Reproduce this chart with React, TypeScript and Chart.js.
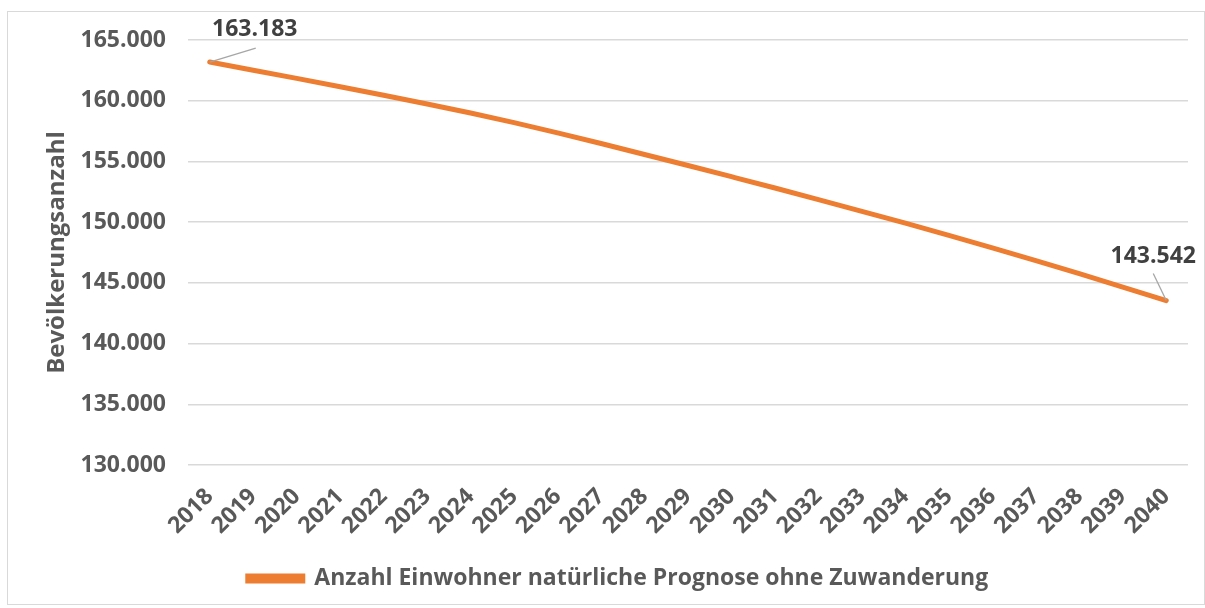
import { useEffect, useRef } from "react";
import { Chart, registerables } from "chart.js";

Chart.register(...registerables);

const years = [
  "2018", "2019", "2020", "2021", "2022", "2023", "2024", "2025", "2026", "2027", "2028", "2029",
  "2030", "2031", "2032", "2033", "2034", "2035", "2036", "2037", "2038", "2039", "2040",
];
const population = [
  163183, 162513, 161838, 161153, 160453, 159733, 158983, 158193, 157353, 156473, 155573, 154663,
  153743, 152813, 151860, 150892, 149912, 148912, 147882, 146827, 145752, 144657, 143542,
];
const seriesLabel = "Anzahl Einwohner natürliche Prognose ohne Zuwanderung";
const axisTitle = "Bevölkerungsanzahl";
const yMin = 130000;
const yMax = 165000;
const yStep = 5000;

const FONT = "'Open Sans', sans-serif";
const ORANGE = "#ED7D31";

function fmt(v: number): string {
  return String(Math.round(v)).replace(/\B(?=(\d{3})+(?!\d))/g, ".");
}

const endLabels = {
  id: "endLabels",
  afterDatasetsDraw(chart: any) {
    const meta = chart.getDatasetMeta(0);
    const ctx = chart.ctx;
    const last = population.length - 1;
    const specs = [
      { i: 0, lx: 46, ly: -14, tx: 45, ty: -33 },
      { i: last, lx: -13, ly: -27, tx: -13, ty: -44 },
    ];
    ctx.save();
    for (const s of specs) {
      const p = meta.data[s.i];
      ctx.strokeStyle = "#a6a6a6";
      ctx.lineWidth = 1.3;
      ctx.beginPath();
      ctx.moveTo(p.x, p.y);
      ctx.lineTo(p.x + s.lx, p.y + s.ly);
      ctx.stroke();
      ctx.fillStyle = "#404040";
      ctx.font = `bold 23px ${FONT}`;
      ctx.textAlign = "center";
      ctx.textBaseline = "middle";
      ctx.fillText(fmt(population[s.i]), p.x + s.tx, p.y + s.ty);
    }
    ctx.restore();
  },
};

const shiftLegend = {
  id: "shiftLegend",
  afterLayout(chart: any) {
    const lg = chart.legend;
    if (lg) {
      lg.left += 20;
      lg.right += 20;
    }
  },
};

export default function App() {
  const ref = useRef<HTMLCanvasElement>(null);
  useEffect(() => {
    if (!ref.current) return;
    const chart = new Chart(ref.current, {
      type: "line",
      data: {
        labels: years,
        datasets: [
          {
            label: seriesLabel,
            data: population,
            borderColor: ORANGE,
            backgroundColor: ORANGE,
            borderWidth: 5,
            pointRadius: 0,
            tension: 0.4,
            cubicInterpolationMode: "monotone",
            borderCapStyle: "round",
          },
        ],
      },
      options: {
        responsive: false,
        animation: false,
        layout: { padding: { top: 28, right: 16, left: 0, bottom: 4 } },
        plugins: {
          legend: {
            position: "bottom",
            labels: {
              boxWidth: 55,
              boxHeight: 5,
              color: "#595959",
              font: { family: FONT, size: 23, weight: "bold" },
              padding: 10,
            },
          },
          tooltip: { enabled: false },
        },
        scales: {
          x: {
            offset: true,
            grid: { display: false },
            border: { display: false },
            ticks: {
              color: "#595959",
              font: { family: FONT, size: 23, weight: "bold" },
              maxRotation: 45,
              minRotation: 45,
              autoSkip: false,
              padding: 10,
            },
            afterFit: (s: any) => {
              s.height = 92;
            },
          },
          y: {
            min: yMin,
            max: yMax,
            border: { display: false },
            grid: {
              color: "#d9d9d9",
              lineWidth: 1.5,
              drawTicks: true,
              tickLength: 18,
              tickColor: "rgba(0,0,0,0)",
            },
            ticks: {
              stepSize: yStep,
              color: "#595959",
              font: { family: FONT, size: 23, weight: "bold" },
              padding: 4,
              callback: (v: any) => fmt(Number(v)),
            },
            title: {
              display: true,
              text: axisTitle,
              color: "#595959",
              font: { family: FONT, size: 24, weight: "bold" },
              padding: { top: 35, bottom: 0 },
            },
            afterFit: (s: any) => {
              s.width = 180;
            },
          },
        },
      },
      plugins: [endLabels, shiftLegend],
    });
    return () => chart.destroy();
  }, []);
  return (
    <div
      style={{
        position: "absolute",
        left: 7,
        top: 11,
        width: 1196,
        height: 592,
        border: "1px solid #d9d9d9",
        background: "#fff",
      }}
    >
      <canvas ref={ref} width={1196} height={592} style={{ display: "block" }} />
    </div>
  );
}
